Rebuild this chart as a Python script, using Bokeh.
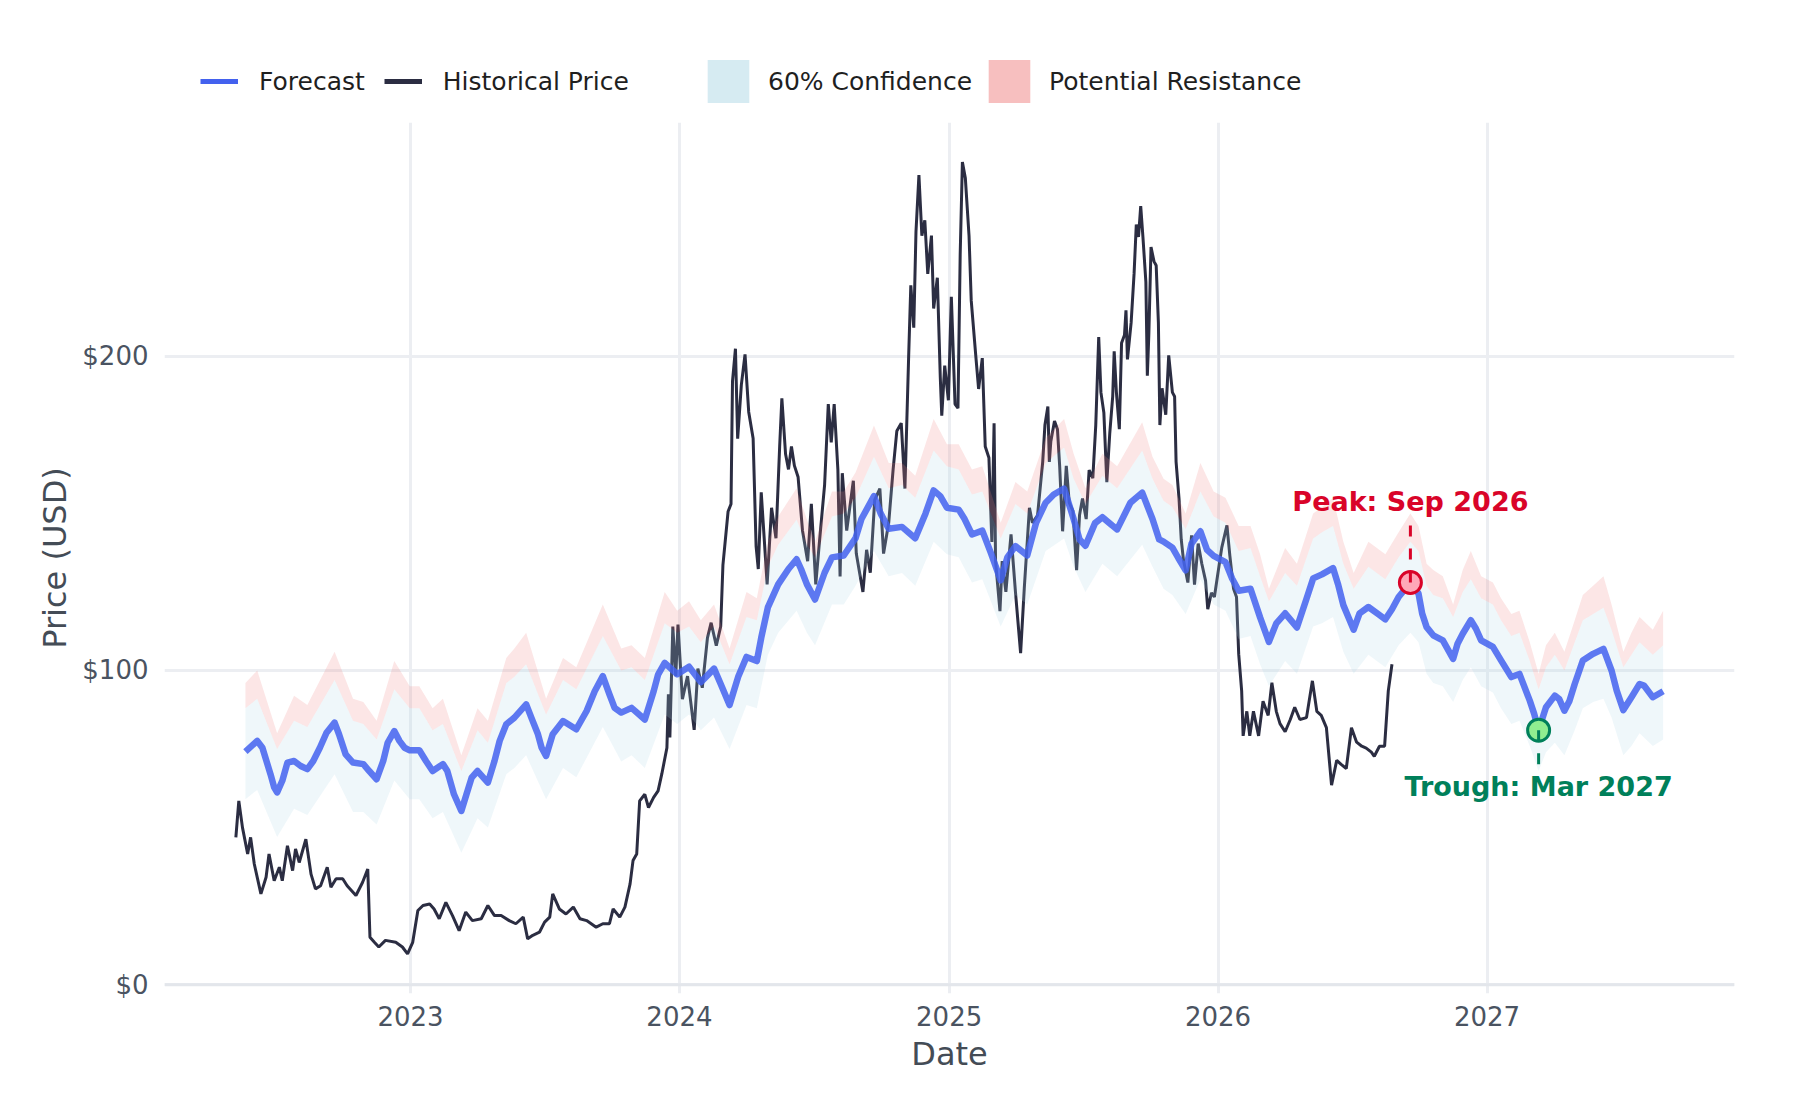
import pandas as pd
from bokeh.plotting import figure
from bokeh.layouts import column
from bokeh.models import (Legend, LegendItem, FixedTicker, DatetimeTickFormatter,
                          PrintfTickFormatter, Label, Span)
from bokeh.embed import file_html
from bokeh.resources import INLINE

# historical price
hist_dates = [
    "2022-05-09", "2022-05-13", "2022-05-18", "2022-05-25", "2022-05-29", "2022-06-03", "2022-06-12",
    "2022-06-19", "2022-06-23", "2022-06-30", "2022-07-07", "2022-07-11", "2022-07-18", "2022-07-25",
    "2022-07-29", "2022-08-03", "2022-08-12", "2022-08-19", "2022-08-25", "2022-09-01", "2022-09-10",
    "2022-09-15", "2022-09-22", "2022-10-01", "2022-10-07", "2022-10-19", "2022-10-28", "2022-11-04",
    "2022-11-07", "2022-11-13", "2022-11-19", "2022-11-28", "2022-12-12", "2022-12-21", "2022-12-28",
    "2023-01-04", "2023-01-11", "2023-01-18", "2023-01-27", "2023-02-02", "2023-02-09", "2023-02-18",
    "2023-02-27", "2023-03-08", "2023-03-17", "2023-03-26", "2023-04-07", "2023-04-16", "2023-04-25",
    "2023-05-04", "2023-05-15", "2023-05-24", "2023-06-03", "2023-06-09", "2023-06-16", "2023-06-25",
    "2023-07-02", "2023-07-09", "2023-07-13", "2023-07-22", "2023-07-31", "2023-08-10", "2023-08-19",
    "2023-08-28", "2023-09-10", "2023-09-19", "2023-09-28", "2023-10-03", "2023-10-12", "2023-10-19",
    "2023-10-26", "2023-10-30", "2023-11-04", "2023-11-08", "2023-11-15", "2023-11-20", "2023-11-27",
    "2023-12-03", "2023-12-08", "2023-12-15", "2023-12-17", "2023-12-19", "2023-12-23", "2023-12-27",
    "2023-12-30", "2024-01-05", "2024-01-12", "2024-01-21", "2024-01-26", "2024-02-01", "2024-02-08",
    "2024-02-13", "2024-02-20", "2024-02-26", "2024-02-29", "2024-03-07", "2024-03-11", "2024-03-13",
    "2024-03-17", "2024-03-20", "2024-03-25", "2024-03-30", "2024-04-04", "2024-04-10", "2024-04-14",
    "2024-04-17", "2024-04-21", "2024-04-25", "2024-04-29", "2024-05-05", "2024-05-11", "2024-05-16",
    "2024-05-19", "2024-05-24", "2024-05-28", "2024-06-01", "2024-06-05", "2024-06-10", "2024-06-16",
    "2024-06-23", "2024-06-28", "2024-07-04", "2024-07-09", "2024-07-16", "2024-07-21", "2024-07-25",
    "2024-07-29", "2024-08-03", "2024-08-06", "2024-08-09", "2024-08-15", "2024-08-24", "2024-08-28",
    "2024-09-06", "2024-09-11", "2024-09-16", "2024-09-22", "2024-09-29", "2024-10-04", "2024-10-11",
    "2024-10-17", "2024-10-22", "2024-10-28", "2024-11-02", "2024-11-07", "2024-11-10", "2024-11-14",
    "2024-11-17", "2024-11-21", "2024-11-25", "2024-11-29", "2024-12-03", "2024-12-08", "2024-12-11",
    "2024-12-16", "2024-12-20", "2024-12-22", "2024-12-26", "2024-12-31", "2025-01-04", "2025-01-09",
    "2025-01-13", "2025-01-16", "2025-01-19", "2025-01-23", "2025-01-28", "2025-01-31", "2025-02-06",
    "2025-02-10", "2025-02-15", "2025-02-19", "2025-02-24", "2025-02-28", "2025-03-03", "2025-03-05",
    "2025-03-11", "2025-03-14", "2025-03-19", "2025-03-26", "2025-04-01", "2025-04-08", "2025-04-13",
    "2025-04-20", "2025-04-24", "2025-05-01", "2025-05-08", "2025-05-11", "2025-05-15", "2025-05-17",
    "2025-05-19", "2025-05-24", "2025-05-28", "2025-05-31", "2025-06-04", "2025-06-09", "2025-06-13",
    "2025-06-18", "2025-06-23", "2025-06-27", "2025-07-01", "2025-07-06", "2025-07-10", "2025-07-15",
    "2025-07-19", "2025-07-23", "2025-07-26", "2025-07-30", "2025-08-03", "2025-08-07", "2025-08-11",
    "2025-08-13", "2025-08-16", "2025-08-20", "2025-08-23", "2025-08-27", "2025-08-29", "2025-08-31",
    "2025-09-05", "2025-09-09", "2025-09-12", "2025-09-15", "2025-09-18", "2025-09-21", "2025-09-25",
    "2025-09-27", "2025-09-29", "2025-10-02", "2025-10-06", "2025-10-09", "2025-10-12", "2025-10-14",
    "2025-10-17", "2025-10-22", "2025-10-26", "2025-10-31", "2025-11-03", "2025-11-05", "2025-11-09",
    "2025-11-12", "2025-11-15", "2025-11-21", "2025-11-26", "2025-11-30", "2025-12-05", "2025-12-10",
    "2025-12-15", "2025-12-18", "2025-12-23", "2025-12-27", "2026-01-01", "2026-01-06", "2026-01-13",
    "2026-01-17", "2026-01-22", "2026-01-26", "2026-01-29", "2026-02-02", "2026-02-04", "2026-02-09",
    "2026-02-13", "2026-02-18", "2026-02-25", "2026-03-03", "2026-03-10", "2026-03-15", "2026-03-21",
    "2026-03-26", "2026-04-02", "2026-04-09", "2026-04-15", "2026-04-22", "2026-05-01", "2026-05-09",
    "2026-05-15", "2026-05-21", "2026-05-28", "2026-06-04", "2026-06-11", "2026-06-17", "2026-06-24",
    "2026-07-01", "2026-07-08", "2026-07-15", "2026-07-21", "2026-07-28", "2026-08-01", "2026-08-08",
    "2026-08-15", "2026-08-20", "2026-08-25",
]
hist_price = [
    46.9, 58.5, 50.0, 41.6, 46.9, 38.4, 28.9,
    34.2, 41.6, 33.1, 37.4, 33.1, 44.2, 36.3,
    43.2, 38.9, 46.3, 35.2, 30.5, 31.5, 37.4,
    31.0, 33.7, 33.7, 31.5, 28.4, 32.6, 36.8,
    15.1, 13.5, 12.0, 14.1, 13.5, 12.0, 9.8,
    13.5, 23.6, 25.2, 25.7, 24.1, 21.0, 26.2,
    22.0, 17.2, 23.1, 20.4, 21.0, 25.2, 22.0,
    22.0, 20.4, 19.4, 21.5, 14.6, 15.7, 16.7,
    19.9, 21.5, 28.9, 24.1, 22.5, 24.7, 21.0,
    20.4, 18.3, 19.4, 19.4, 24.1, 21.5, 24.7,
    32.1, 39.5, 41.6, 58.5, 60.6, 56.4, 59.6,
    61.7, 67.0, 75.4, 92.4, 78.7, 114.0, 98.2,
    114.6, 90.9, 98.2, 81.1, 100.6, 94.5, 110.4,
    115.2, 107.9, 114.0, 133.5, 150.6, 153.0, 192.0,
    202.4, 173.8, 190.9, 200.6, 182.3, 173.8, 139.6,
    132.3, 156.7, 142.1, 127.4, 151.8, 142.1, 171.3,
    186.6, 168.9, 164.0, 171.3, 165.2, 161.6, 144.5,
    134.8, 153.0, 127.4, 140.9, 159.1, 184.8, 172.6,
    184.8, 164.0, 129.9, 162.8, 144.5, 160.4, 137.2,
    125.0, 138.4, 131.1, 154.3, 157.9, 137.2, 147.0,
    164.0, 176.2, 178.7, 157.9, 199.4, 222.6, 209.1,
    239.6, 257.7, 238.4, 243.3, 226.2, 238.4, 215.2,
    225.0, 193.3, 181.1, 197.0, 186.0, 218.9, 184.8,
    183.5, 232.3, 261.8, 256.7, 238.4, 217.7, 200.6,
    189.6, 199.4, 171.3, 167.7, 140.9, 178.7, 134.8,
    118.9, 134.8, 125.0, 143.3, 125.0, 105.5, 126.2,
    151.8, 147.0, 149.4, 166.4, 178.1, 184.0, 166.4,
    172.9, 179.4, 176.8, 165.1, 144.3, 165.1, 153.4,
    150.8, 131.9, 149.5, 154.7, 148.2, 163.8, 161.2,
    178.1, 206.1, 188.5, 182.0, 159.9, 175.5, 187.2,
    201.6, 188.5, 176.8, 204.2, 206.8, 214.6, 199.0,
    210.7, 226.3, 241.9, 238.0, 247.8, 238.0, 223.7,
    193.8, 206.8, 234.8, 230.2, 228.9, 210.7, 178.1,
    189.8, 181.4, 200.3, 188.5, 187.2, 166.4, 154.7,
    141.7, 135.2, 128.0, 143.0, 127.3, 140.4, 133.9,
    128.6, 119.5, 124.7, 123.4, 131.3, 139.1, 146.2,
    136.5, 126.0, 123.4, 105.2, 93.5, 79.2, 87.0,
    79.2, 87.0, 79.2, 90.2, 85.7, 96.1, 87.0,
    83.1, 80.5, 84.4, 88.3, 84.4, 85.0, 96.7,
    87.0, 85.7, 81.8, 63.5, 71.4, 70.1, 68.8,
    81.8, 77.2, 75.9, 75.3, 74.0, 72.7, 75.9,
    75.9, 93.5, 102.0,
]

# forecast line
fc_dates = [
    "2022-05-22", "2022-06-07", "2022-06-14", "2022-06-25", "2022-06-30", "2022-07-04",
    "2022-07-11", "2022-07-18", "2022-07-27", "2022-08-05", "2022-08-14", "2022-08-22",
    "2022-08-31", "2022-09-09", "2022-09-20", "2022-09-26", "2022-10-05", "2022-10-15",
    "2022-10-29", "2022-11-06", "2022-11-16", "2022-11-25", "2022-12-01", "2022-12-10",
    "2022-12-17", "2022-12-24", "2022-12-31", "2023-01-13", "2023-01-22", "2023-01-31",
    "2023-02-14", "2023-02-20", "2023-03-01", "2023-03-11", "2023-03-18", "2023-03-25",
    "2023-04-02", "2023-04-16", "2023-04-25", "2023-05-02", "2023-05-11", "2023-05-22",
    "2023-06-07", "2023-06-14", "2023-06-23", "2023-06-28", "2023-07-04", "2023-07-13",
    "2023-07-27", "2023-08-14", "2023-08-28", "2023-09-08", "2023-09-19", "2023-09-28",
    "2023-10-05", "2023-10-14", "2023-10-28", "2023-11-15", "2023-11-27", "2023-12-03",
    "2023-12-12", "2023-12-29", "2024-01-14", "2024-01-30", "2024-02-17", "2024-02-26",
    "2024-03-09", "2024-03-21", "2024-04-01", "2024-04-15", "2024-04-21", "2024-04-30",
    "2024-05-14", "2024-05-28", "2024-06-08", "2024-06-14", "2024-06-22", "2024-07-03",
    "2024-07-16", "2024-07-26", "2024-08-11", "2024-08-27", "2024-09-04", "2024-09-21",
    "2024-09-30", "2024-10-11", "2024-10-29", "2024-11-16", "2024-11-30", "2024-12-11",
    "2024-12-20", "2024-12-29", "2025-01-14", "2025-01-22", "2025-02-01", "2025-02-15",
    "2025-02-27", "2025-03-12", "2025-03-21", "2025-04-01", "2025-04-17", "2025-04-29",
    "2025-05-12", "2025-05-23", "2025-06-06", "2025-06-19", "2025-06-27", "2025-07-05",
    "2025-07-18", "2025-07-28", "2025-08-10", "2025-08-17", "2025-09-04", "2025-09-20",
    "2025-10-04", "2025-10-13", "2025-10-19", "2025-10-31", "2025-11-08", "2025-11-18",
    "2025-11-26", "2025-12-08", "2025-12-17", "2025-12-26", "2026-01-11", "2026-01-20",
    "2026-01-29", "2026-02-14", "2026-02-27", "2026-03-11", "2026-03-21", "2026-04-02",
    "2026-04-18", "2026-04-30", "2026-05-10", "2026-05-22", "2026-06-06", "2026-06-13",
    "2026-06-20", "2026-07-04", "2026-07-12", "2026-07-24", "2026-08-05", "2026-08-16",
    "2026-08-25", "2026-09-03", "2026-09-19", "2026-09-30", "2026-10-05", "2026-10-11",
    "2026-10-20", "2026-11-02", "2026-11-16", "2026-11-22", "2026-11-29", "2026-12-10",
    "2026-12-17", "2026-12-24", "2027-01-09", "2027-01-20", "2027-02-03", "2027-02-14",
    "2027-02-28", "2027-03-06", "2027-03-12", "2027-03-22", "2027-04-03", "2027-04-09",
    "2027-04-16", "2027-04-23", "2027-04-30", "2027-05-11", "2027-05-25", "2027-06-08",
    "2027-06-19", "2027-06-26", "2027-07-05", "2027-07-16", "2027-07-27", "2027-08-02",
    "2027-08-14", "2027-08-28",
]
fc_price = [
    74.2, 77.6, 75.4, 67.0, 62.8, 61.2,
    64.9, 70.7, 71.2, 69.6, 68.6, 71.2,
    75.4, 80.2, 83.4, 79.7, 73.3, 70.7,
    70.2, 68.0, 65.4, 71.2, 77.0, 80.7,
    77.6, 75.4, 74.6, 74.6, 71.2, 68.0,
    70.2, 68.0, 60.6, 55.3, 60.6, 65.9,
    68.0, 64.3, 71.2, 77.6, 82.9, 85.0,
    89.2, 85.0, 79.7, 75.4, 72.8, 79.7,
    83.9, 81.3, 87.1, 93.4, 98.2, 92.4,
    88.1, 86.6, 88.1, 84.4, 93.4, 98.7,
    102.4, 98.8, 101.2, 96.3, 100.6, 95.7,
    89.0, 98.2, 104.3, 103.0, 110.4, 120.1,
    127.4, 132.3, 135.4, 132.3, 127.4, 122.6,
    131.1, 136.0, 136.6, 142.1, 148.2, 155.5,
    150.0, 145.1, 145.7, 142.1, 150.0, 157.3,
    155.5, 151.8, 151.2, 148.2, 143.3, 144.5,
    137.2, 128.7, 136.0, 139.6, 136.6, 147.0,
    153.4, 156.0, 157.9, 148.2, 141.7, 139.7,
    146.9, 148.8, 146.2, 144.9, 153.4, 156.6,
    148.2, 141.7, 141.0, 139.1, 135.8, 131.9,
    140.4, 144.3, 138.4, 136.5, 134.5, 129.3,
    125.4, 126.0, 116.9, 109.1, 115.0, 118.2,
    113.7, 122.1, 129.3, 130.6, 132.6, 127.3,
    120.8, 113.0, 118.2, 120.2, 118.2, 116.3,
    119.5, 123.4, 128.0, 124.5, 118.1, 113.8,
    111.2, 109.6, 103.7, 108.5, 111.7, 116.0,
    113.3, 109.6, 107.5, 103.2, 97.9, 98.9,
    90.4, 86.2, 81.0, 88.3, 92.0, 90.9,
    87.2, 90.4, 95.7, 103.2, 105.3, 106.9,
    100.0, 93.6, 87.4, 91.5, 95.7, 95.2,
    91.5, 93.4,
]

# confidence band and resistance zone
band_dates = [
    "2022-05-22", "2022-06-07", "2022-07-04", "2022-07-27", "2022-08-14", "2022-09-20", "2022-10-15",
    "2022-10-29", "2022-11-16", "2022-12-10", "2022-12-31", "2023-01-13", "2023-01-31", "2023-02-14",
    "2023-03-11", "2023-04-02", "2023-04-16", "2023-05-11", "2023-05-22", "2023-06-07", "2023-07-04",
    "2023-07-27", "2023-08-14", "2023-09-19", "2023-10-14", "2023-10-28", "2023-11-15", "2023-12-12",
    "2023-12-29", "2024-01-14", "2024-01-30", "2024-02-17", "2024-03-09", "2024-04-01", "2024-04-15",
    "2024-04-30", "2024-05-14", "2024-06-08", "2024-06-22", "2024-07-03", "2024-07-26", "2024-08-11",
    "2024-08-27", "2024-09-21", "2024-10-11", "2024-10-29", "2024-11-16", "2024-12-11", "2024-12-29",
    "2025-01-14", "2025-02-01", "2025-02-15", "2025-03-12", "2025-04-01", "2025-04-17", "2025-05-12",
    "2025-06-06", "2025-06-19", "2025-07-05", "2025-07-28", "2025-08-17", "2025-09-20", "2025-10-04",
    "2025-10-19", "2025-10-31", "2025-11-18", "2025-12-08", "2025-12-26", "2026-01-11", "2026-01-29",
    "2026-02-14", "2026-02-27", "2026-03-11", "2026-04-02", "2026-04-18", "2026-05-10", "2026-05-22",
    "2026-06-06", "2026-06-20", "2026-07-04", "2026-07-24", "2026-08-16", "2026-09-03", "2026-09-19",
    "2026-09-30", "2026-10-11", "2026-10-20", "2026-11-02", "2026-11-16", "2026-11-29", "2026-12-10",
    "2026-12-24", "2027-01-09", "2027-01-20", "2027-02-03", "2027-02-14", "2027-02-28", "2027-03-12",
    "2027-03-22", "2027-04-03", "2027-04-16", "2027-04-30", "2027-05-11", "2027-05-25", "2027-06-08",
    "2027-06-19", "2027-07-05", "2027-07-16", "2027-07-27", "2027-08-14", "2027-08-28",
]
conf_low = [
    59, 62, 47, 56, 54, 67, 55,
    55, 51, 65, 59, 59, 53, 55,
    42, 53, 50, 67, 69, 73, 59,
    69, 66, 82, 71, 73, 69, 86,
    83, 86, 81, 85, 75, 89, 88,
    105, 112, 119, 112, 108, 121, 121,
    127, 138, 130, 131, 127, 141, 137,
    136, 128, 129, 114, 124, 121, 138,
    142, 133, 125, 134, 130, 140, 133,
    126, 124, 118, 129, 121, 119, 110,
    111, 102, 95, 103, 99, 114, 115,
    117, 106, 99, 105, 101, 108, 112,
    109, 99, 96, 95, 90, 97, 101,
    95, 93, 88, 83, 84, 76, 68,
    74, 77, 73, 81, 88, 90, 91,
    85, 73, 76, 80, 76, 78,
]
conf_high = [
    88, 91, 75, 84, 82, 97, 84,
    83, 78, 94, 88, 88, 81, 83,
    68, 81, 77, 96, 98, 102, 86,
    97, 94, 111, 100, 101, 97, 115,
    112, 114, 109, 114, 102, 117, 116,
    133, 140, 148, 140, 136, 149, 150,
    155, 168, 158, 159, 155, 170, 165,
    164, 156, 157, 142, 153, 150, 166,
    171, 161, 153, 162, 158, 170, 161,
    154, 152, 145, 157, 149, 147, 138,
    139, 130, 122, 131, 127, 142, 144,
    146, 134, 126, 133, 129, 136, 141,
    138, 127, 124, 123, 117, 125, 129,
    123, 121, 116, 111, 112, 103, 94,
    101, 105, 100, 109, 116, 118, 120,
    113, 101, 105, 109, 105, 108,
]
resist_high = [
    96, 100, 80, 92, 89, 106, 91,
    90, 84, 103, 95, 95, 88, 91,
    73, 88, 84, 104, 107, 112, 91,
    104, 101, 121, 107, 108, 104, 125,
    119, 122, 116, 121, 107, 125, 123,
    141, 149, 158, 148, 141, 157, 157,
    163, 178, 166, 166, 162, 180, 172,
    172, 164, 165, 147, 160, 157, 174,
    180, 169, 158, 169, 165, 179, 168,
    161, 159, 150, 166, 157, 155, 146,
    146, 137, 126, 139, 134, 150, 152,
    155, 141, 131, 141, 137, 144, 150,
    146, 134, 132, 130, 121, 132, 138,
    130, 128, 123, 118, 119, 109, 99,
    108, 112, 106, 116, 124, 127, 130,
    121, 106, 112, 117, 113, 119,
]

year_ticks = [2023, 2024, 2025, 2026, 2027]
price_ticks = [0, 100, 200]

FONT = "DejaVu Sans"
PAGE_W = 1784
LEG_H = 110
FRAME_LEFT = 164

hist_x = pd.to_datetime(hist_dates)
fc_x = pd.to_datetime(fc_dates)
band_x = pd.to_datetime(band_dates)
fc = pd.Series(fc_price, index=fc_x)

# peak and trough of the forecast after the last known price
future = fc[fc.index > hist_x[-1]]
peak_date, peak_value = future.idxmax(), future.max()
trough_date, trough_value = future.idxmin(), future.min()

p = figure(width=PAGE_W, height=1084 - LEG_H, x_axis_type="datetime",
           output_backend="svg", toolbar_location=None,
           min_border_left=FRAME_LEFT, min_border_right=50,
           min_border_top=12, min_border_bottom=91)
p.outline_line_color = None
p.background_fill_color = "white"
p.border_fill_color = "white"

#historical first, the bands are drawn over it
p.line(hist_x, hist_price, line_color="#2b2d42", line_width=3)
p.varea(x=band_x, y1=conf_low, y2=conf_high, fill_color="#add8e6", fill_alpha=0.2)
p.varea(x=band_x, y1=conf_high, y2=resist_high, fill_color="#f08080", fill_alpha=0.2)
p.line(fc_x, fc_price, line_color="#4361ee", line_alpha=0.85, line_width=6.5,
       line_join="round")

# markers and dashed leaders
p.scatter([peak_date], [peak_value], size=22, fill_color="#ffa8b8",
          line_color="#d90429", line_width=3)
p.segment(x0=[peak_date], y0=[peak_value], x1=[peak_date], y1=[peak_value + 18.5],
          line_color="#d90429", line_width=3, line_dash="11 12")
p.scatter([trough_date], [trough_value], size=22, fill_color="#90ee90",
          line_color="#00805a", line_width=3)
p.segment(x0=[trough_date], y0=[trough_value], x1=[trough_date], y1=[trough_value - 11.8],
          line_color="#00805a", line_width=3, line_dash="11 12")

p.add_layout(Label(x=peak_date.timestamp() * 1000, y=peak_value, y_offset=81,
                   text=f"Peak: {peak_date:%b %Y}", text_align="center",
                   text_baseline="alphabetic", text_font=FONT, text_font_size="27px",
                   text_font_style="bold", text_color="#d90429"))
p.add_layout(Label(x=trough_date.timestamp() * 1000, y=trough_value, y_offset=-56,
                   text=f"Trough: {trough_date:%b %Y}", text_align="center",
                   text_baseline="alphabetic", text_font=FONT, text_font_size="27px",
                   text_font_style="bold", text_color="#00805a"))

p.add_layout(Span(location=0, dimension="width", line_color="#e3e6eb", line_width=3))

# axes
year_ms = [pd.Timestamp(f"{y}-01-01").timestamp() * 1000 for y in year_ticks]
p.xaxis.ticker = FixedTicker(ticks=year_ms)
p.xgrid.ticker = FixedTicker(ticks=year_ms)
p.xaxis.formatter = DatetimeTickFormatter(years="%Y", months="%Y", days="%Y", hours="%Y")
p.yaxis.ticker = FixedTicker(ticks=price_ticks)
p.yaxis.formatter = PrintfTickFormatter(format="$%d")
p.xaxis.axis_label = "Date"
p.yaxis.axis_label = "Price (USD)"
for ax in (p.xaxis, p.yaxis):
    ax.axis_line_color = None
    ax.major_tick_line_color = None
    ax.minor_tick_line_color = None
    ax.major_label_text_font = FONT
    ax.major_label_text_font_size = "26px"
    ax.major_label_text_color = "#4a5361"
    ax.axis_label_text_font = FONT
    ax.axis_label_text_font_size = "32px"
    ax.axis_label_text_font_style = "normal"
    ax.axis_label_text_color = "#444c56"
p.xaxis.major_label_standoff = 6
p.yaxis.major_label_standoff = 10
p.xaxis.axis_label_standoff = 6
p.yaxis.axis_label_standoff = 5
p.grid.grid_line_color = "#eceef2"
p.grid.grid_line_width = 3

# legend strip above the plot (its frame is aligned with the main frame)
lg = figure(width=PAGE_W, height=LEG_H, output_backend="svg", toolbar_location=None,
            x_axis_location=None, y_axis_location=None, min_border=0)
lg.outline_line_color = None
lg.grid.visible = False
nan = float("nan")
lg_fc = lg.line(x=[0], y=[nan], line_color="#4361ee", line_width=5)
lg_hist = lg.line(x=[0], y=[nan], line_color="#2b2d42", line_width=5)
lg_conf = lg.varea(x=[0], y1=[nan], y2=[nan], fill_color="#add8e6", fill_alpha=0.5)
lg_res = lg.varea(x=[0], y1=[nan], y2=[nan], fill_color="#f08080", fill_alpha=0.5)

def make_legend(items, loc, gw, gh, standoff, spacing):
    leg = Legend(items=items, location=loc, orientation="horizontal",
                 glyph_width=gw, glyph_height=gh, label_standoff=standoff,
                 spacing=spacing, padding=0, margin=0,
                 border_line_color=None, background_fill_alpha=0,
                 label_text_font=FONT, label_text_font_size="25px",
                 label_text_color="#1f1f1f")
    lg.add_layout(leg)

make_legend([LegendItem(label="Forecast", renderers=[lg_fc]),
             LegendItem(label="Historical Price", renderers=[lg_hist])],
            (200 - FRAME_LEFT, 14), 38, 30, 21, 19)
# area swatches are drawn inset by 10%, so the glyph box is a bit larger
make_legend([LegendItem(label="60% Confidence", renderers=[lg_conf]),
             LegendItem(label="Potential Resistance", renderers=[lg_res])],
            (702 - FRAME_LEFT, 2), 52, 54, 14, 11)

open("out.html", "w").write(file_html(column(lg, p, spacing=0), INLINE))
